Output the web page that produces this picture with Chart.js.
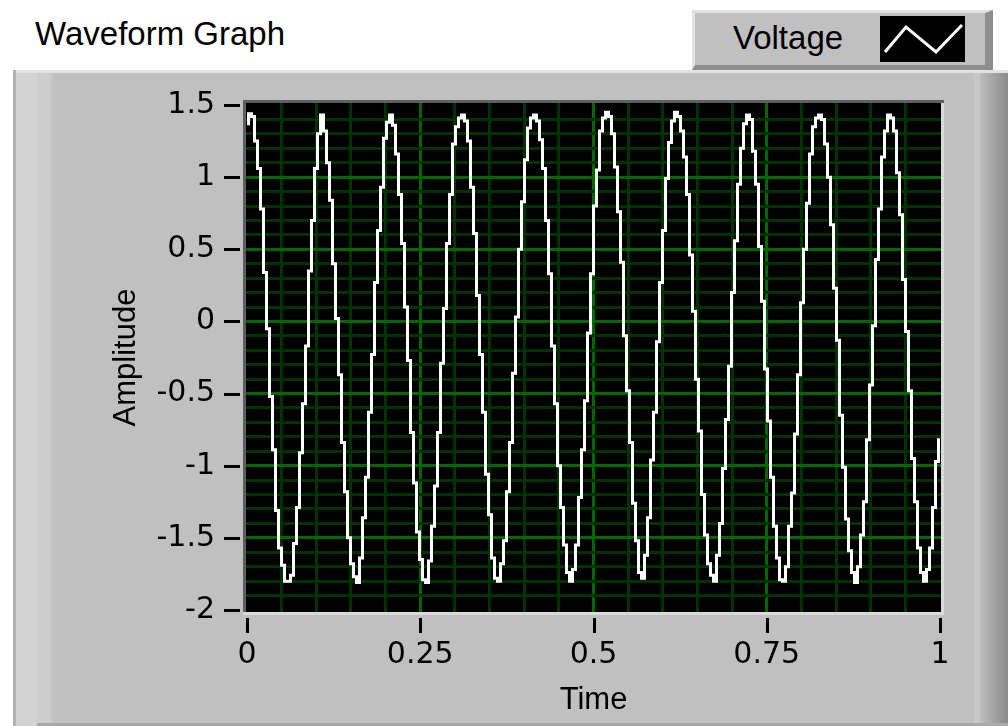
<!DOCTYPE html>
<html><head><meta charset="utf-8">
<script src="https://cdn.jsdelivr.net/npm/chart.js@4.4.1/dist/chart.umd.min.js"></script>
<style>
html,body{margin:0;padding:0;background:#fff;width:1008px;height:726px;overflow:hidden;position:relative;font-family:"Liberation Sans",Arial,sans-serif;}
.abs{position:absolute;}
#chart{position:absolute;left:0;top:0;z-index:5;}
.lbl{font-size:33px;line-height:33px;color:#000;white-space:nowrap;}
</style></head><body>
<!-- panel -->
<div class="abs" style="left:13px;top:70px;width:995px;height:656px;background:#c0c0c0"></div>
<div class="abs" style="left:13px;top:70px;width:995px;height:3px;background:#e2e2e2"></div>
<div class="abs" style="left:13px;top:70px;width:3px;height:656px;background:#b2b2b2"></div>
<div class="abs" style="left:16px;top:73px;width:21px;height:653px;background:#d3d3d3"></div>
<div class="abs" style="left:37px;top:73px;width:13px;height:653px;background:#cdcdcd"></div>
<div class="abs" style="left:50px;top:73px;width:3px;height:653px;background:#c6c6c6"></div>
<div class="abs" style="left:974px;top:73px;width:6px;height:653px;background:#c8c8c8"></div>
<div class="abs" style="left:980px;top:73px;width:28px;height:653px;background:linear-gradient(to right,#bdbdbd,#8a8a8a)"></div>
<div class="abs" style="left:37px;top:723px;width:971px;height:3px;background:#a9a9a9"></div>
<!-- title -->
<div class="abs lbl" style="left:35px;top:17px">Waveform Graph</div>
<!-- legend -->
<div class="abs" style="left:692px;top:10px;width:301px;height:60px;background:#c0c0c0;box-sizing:border-box;border-top:3px solid #e2e2e2;border-left:3px solid #e2e2e2;border-right:8px solid #8e8e8e;border-bottom:5px solid #8e8e8e"></div>
<div class="abs lbl" style="left:733px;top:21px">Voltage</div>
<svg class="abs" style="left:880px;top:16px" width="85" height="46" viewBox="0 0 85 46">
<rect x="0" y="0" width="85" height="46" fill="#000"/>
<polyline points="5,36 26,11 56,36 82,9" fill="none" stroke="#fff" stroke-width="3"/>
</svg>
<canvas id="chart" width="1008" height="726"></canvas>
<script>
// Waveform: t0 and dt of the LabVIEW waveform (seconds)
const timeStart = 0;
const timeStep = 1 / 231;
// Amplitude samples
const voltage = [
  1.37, 1.44, 1.42, 1.25, 1.06, 0.78, 0.34, -0.05, -0.52, -0.89, -1.31, -1.57, -1.69, -1.80,
  -1.80, -1.76, -1.54, -1.29, -0.91, -0.57, -0.17, 0.35, 0.70, 1.06, 1.30, 1.43,
  1.32, 1.10, 0.84, 0.40, 0.02, -0.37, -0.84, -1.18, -1.50, -1.68, -1.77, -1.81,
  -1.64, -1.36, -1.08, -0.63, -0.23, 0.27, 0.63, 0.93, 1.27, 1.38, 1.43,
  1.36, 1.16, 0.88, 0.54, 0.10, -0.27, -0.77, -1.12, -1.46, -1.65, -1.79, -1.81,
  -1.66, -1.42, -1.14, -0.77, -0.29, 0.09, 0.54, 0.88, 1.23, 1.35, 1.41, 1.43,
  1.39, 1.25, 0.93, 0.61, 0.18, -0.23, -0.63, -1.06, -1.34, -1.64, -1.78, -1.80,
  -1.68, -1.52, -1.18, -0.84, -0.36, 0.03, 0.50, 0.83, 1.12, 1.34, 1.41, 1.43,
  1.39, 1.26, 1.06, 0.70, 0.33, -0.17, -0.57, -1.00, -1.29, -1.55, -1.74, -1.80,
  -1.72, -1.55, -1.22, -0.89, -0.55, -0.08, 0.33, 0.80, 1.05, 1.32, 1.41, 1.45,
  1.42, 1.30, 1.07, 0.76, 0.41, -0.10, -0.48, -0.84, -1.26, -1.52, -1.74, -1.78,
  -1.62, -1.36, -0.96, -0.63, -0.14, 0.27, 0.63, 0.99, 1.24, 1.39, 1.45,
  1.42, 1.32, 1.14, 0.88, 0.46, 0.07, -0.40, -0.76, -1.20, -1.48, -1.68, -1.76, -1.80,
  -1.62, -1.40, -1.02, -0.68, -0.31, 0.20, 0.56, 0.95, 1.20, 1.37, 1.43,
  1.40, 1.18, 0.95, 0.52, 0.14, -0.33, -0.69, -1.08, -1.42, -1.64, -1.79, -1.80,
  -1.70, -1.42, -1.19, -0.78, -0.37, 0.13, 0.50, 0.82, 1.16, 1.35, 1.41, 1.43,
  1.40, 1.23, 1.00, 0.67, 0.23, -0.13, -0.65, -1.01, -1.37, -1.59, -1.74, -1.81,
  -1.70, -1.48, -1.25, -0.82, -0.44, -0.03, 0.43, 0.78, 1.14, 1.32, 1.43,
  1.41, 1.32, 1.03, 0.74, 0.29, -0.07, -0.48, -0.95, -1.25, -1.57, -1.74, -1.80,
  -1.72, -1.57, -1.29, -0.97, -0.82
];
const seriesName = 'Voltage';
const xTickValues = [0, 0.25, 0.5, 0.75, 1];
const yTickValues = [-2, -1.5, -1, -0.5, 0, 0.5, 1, 1.5];
const xMinorDivisions = 5;
const yMinorDivisions = 5;
const xTitle = 'Time';
const yTitle = 'Amplitude';

const points = voltage.map((v, i) => ({ x: timeStart + i * timeStep, y: v }));

function gridTicks(majors, divisions) {
  const out = [];
  for (let i = 0; i < majors.length; i++) {
    out.push({ value: majors[i], isMajor: true });
    if (i < majors.length - 1) {
      const step = (majors[i + 1] - majors[i]) / divisions;
      for (let j = 1; j < divisions; j++) out.push({ value: majors[i] + j * step, isMajor: false });
    }
  }
  return out;
}
function gridColor(majors) {
  return (c) => {
    const t = c.tick;
    if (!t) return 'rgba(0,0,0,0)';
    if (Math.abs(t.value - majors[0]) < 1e-9 || Math.abs(t.value - majors[majors.length - 1]) < 1e-9) return 'rgba(0,0,0,0)';
    return t.isMajor ? '#006600' : '#003300';
  };
}

const tickFont = { family: '"DejaVu Sans", sans-serif', size: 30 };
const titleFont = { family: '"Liberation Sans", Arial, sans-serif', size: 31 };

const lvFrame = {
  id: 'lvFrame',
  beforeDraw(chart) {
    const { ctx, chartArea: a } = chart;
    ctx.save();
    ctx.fillStyle = '#dadada';
    ctx.fillRect(a.left - 3, a.bottom, a.right - a.left + 6, 3);
    ctx.fillRect(a.right, a.top - 3, 3, a.bottom - a.top + 6);
    ctx.fillStyle = '#5e5e5e';
    ctx.fillRect(a.left - 3, a.top - 3, a.right - a.left + 6, 3);
    ctx.fillRect(a.left - 3, a.top - 3, 3, a.bottom - a.top + 3);
    ctx.fillStyle = '#000';
    ctx.fillRect(a.left, a.top, a.right - a.left, a.bottom - a.top);
    ctx.restore();
  },
  afterDraw(chart) {
    const { ctx, chartArea: a, scales } = chart;
    ctx.save();
    ctx.fillStyle = '#000';
    yTickValues.forEach(v => {
      const p = Math.round(scales.y.getPixelForValue(v));
      ctx.fillRect(a.left - 22, p - 1, 16, 3);
    });
    xTickValues.forEach(v => {
      const p = Math.round(scales.x.getPixelForValue(v));
      ctx.fillRect(p - 1, a.bottom + 6, 3, 15);
    });
    ctx.restore();
  }
};

new Chart(document.getElementById('chart'), {
  type: 'line',
  data: {
    datasets: [{
      label: seriesName,
      data: points,
      borderColor: '#ffffff',
      borderWidth: 3,
      stepped: 'middle',
      pointRadius: 0,
      tension: 0,
      fill: false
    }]
  },
  options: {
    responsive: false,
    animation: false,
    devicePixelRatio: 1,
    layout: { padding: { left: 0, right: 67, top: 103, bottom: 0 } },
    plugins: { legend: { display: false }, tooltip: { enabled: false } },
    scales: {
      x: {
        type: 'linear',
        min: xTickValues[0] - 0.00144,
        max: xTickValues[xTickValues.length - 1] + 0.00144,
        afterBuildTicks: (s) => { s.ticks = gridTicks(xTickValues, xMinorDivisions); },
        afterFit: (s) => { s.height = 114; },
        grid: { color: gridColor(xTickValues), lineWidth: 3, drawTicks: false },
        border: { display: false },
        ticks: {
          autoSkip: false, maxRotation: 0, minRotation: 0, padding: 25,
          color: '#000', font: tickFont,
          callback: (v, i, ticks) => ticks[i].isMajor ? String(v) : ''
        },
        title: { display: true, text: xTitle, color: '#000', font: titleFont, padding: { top: 0, bottom: 7 } }
      },
      y: {
        type: 'linear',
        min: -2.014,
        max: 1.514,
        afterBuildTicks: (s) => { s.ticks = gridTicks(yTickValues, yMinorDivisions); },
        afterFit: (s) => { s.width = 246; },
        grid: { color: gridColor(yTickValues), lineWidth: 3, drawTicks: false },
        border: { display: false },
        ticks: {
          autoSkip: false, padding: 31,
          color: '#000', font: tickFont,
          callback: (v, i, ticks) => ticks[i].isMajor ? String(v) : ''
        },
        title: { display: true, text: yTitle, color: '#000', font: titleFont, padding: { top: 108, bottom: 0 } }
      }
    }
  },
  plugins: [lvFrame]
});
</script>
</body></html>
